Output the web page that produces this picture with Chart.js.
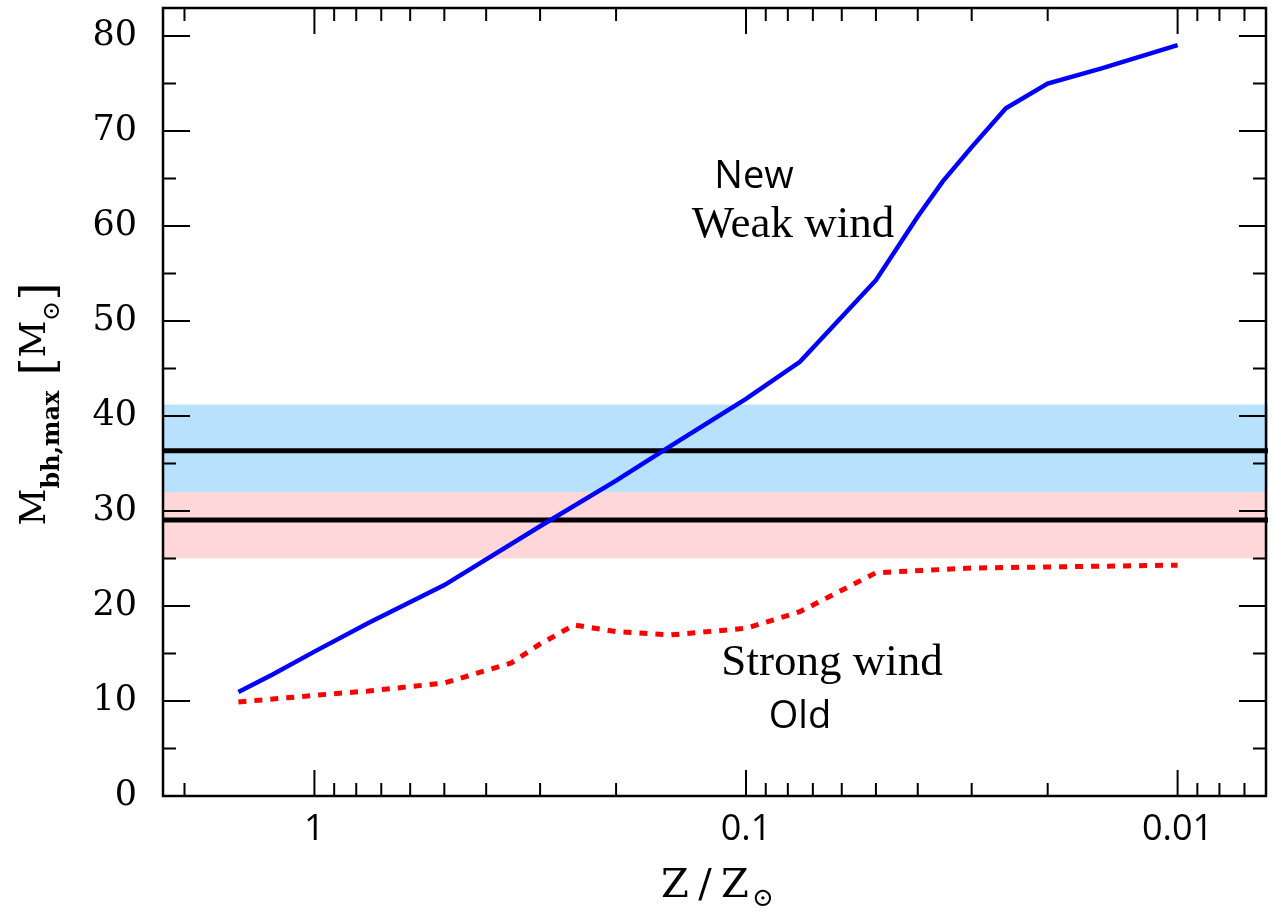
<!DOCTYPE html>
<html><head><meta charset="utf-8">
<script src="https://cdn.jsdelivr.net/npm/chart.js@4/dist/chart.umd.min.js"></script>
<style>html,body{margin:0;padding:0;background:#fff}#wrap{width:1281px;height:916px;position:relative}</style>
</head><body><div id="wrap"><canvas id="c"></canvas></div>
<script>
// ---- data ----
const zNew = [1.5, 1.25, 1, 0.75, 0.5, 0.3, 0.2, 0.15, 0.1, 0.075, 0.05, 0.04, 0.035, 0.03, 0.025, 0.02, 0.015, 0.01];
const mNew = [10.95, 12.8, 15.2, 18.2, 22.2, 28.4, 33.2, 36.8, 41.8, 45.7, 54.3, 61.0, 64.7, 68.3, 72.4, 75.0, 76.6, 79.05];
const zOld = [1.5, 1.25, 1, 0.75, 0.5, 0.35, 0.3, 0.25, 0.2, 0.15, 0.1, 0.075, 0.05, 0.03, 0.01];
const mOld = [9.9, 10.2, 10.6, 11.05, 11.9, 14.0, 16.0, 18.0, 17.3, 16.95, 17.65, 19.4, 23.5, 24.0, 24.3];
const bandLow = [25, 32];     // pink band
const bandHigh = [32, 41.2];  // blue band
const refLines = [36.35, 29.05];
const xMajor = [1, 0.1, 0.01];
const xTickLabels = ['1', '0.1', '0.01'];
const xMinor = [2, 0.9, 0.8, 0.7, 0.6, 0.5, 0.4, 0.3, 0.2, 0.09, 0.08, 0.07, 0.06, 0.05, 0.04, 0.03, 0.02, 0.009, 0.008, 0.007];
const yMajor = [0, 10, 20, 30, 40, 50, 60, 70, 80];
const yMinor = [5, 15, 25, 35, 45, 55, 65, 75];
const xRange = [0.00624, 2.243];
const yRange = [0, 82.95];

const SERIF = '"DejaVu Serif", serif';
const SANS = '"Open Sans", sans-serif';

const decor = {
  id: 'decor',
  beforeDatasetsDraw(chart) {
    const {ctx, chartArea: a, scales: {x, y}} = chart;
    ctx.save();
    const band = (r, col) => {
      const y1 = y.getPixelForValue(r[1]), y0 = y.getPixelForValue(r[0]);
      ctx.fillStyle = col;
      ctx.fillRect(a.left + 1, y1, a.right - a.left + 1, y0 - y1);
    };
    band(bandHigh, '#b7e1fd');
    band(bandLow, '#ffd7d9');
    ctx.strokeStyle = '#000';
    ctx.lineWidth = 5;
    refLines.forEach(v => {
      const p = y.getPixelForValue(v);
      ctx.beginPath(); ctx.moveTo(a.left + 1, p); ctx.lineTo(a.right + 2, p); ctx.stroke();
    });
    ctx.restore();
  },
  afterDatasetsDraw(chart) {
    const {ctx, chartArea: a, scales: {x, y}} = chart;
    ctx.save();
    ctx.strokeStyle = '#000';
    ctx.lineWidth = 2;
    const xt = (v, len) => {
      const p = x.getPixelForValue(v);
      ctx.beginPath();
      ctx.moveTo(p, a.bottom); ctx.lineTo(p, a.bottom - len);
      ctx.moveTo(p, a.top); ctx.lineTo(p, a.top + len);
      ctx.stroke();
    };
    const yt = (v, len) => {
      const p = y.getPixelForValue(v);
      ctx.beginPath();
      ctx.moveTo(a.left, p); ctx.lineTo(a.left + len, p);
      ctx.moveTo(a.right, p); ctx.lineTo(a.right - len, p);
      ctx.stroke();
    };
    xMajor.forEach(v => xt(v, 26));
    xMinor.forEach(v => xt(v, 13));
    yMajor.forEach(v => yt(v, 27));
    yMinor.forEach(v => yt(v, 13));
    ctx.lineWidth = 2.5;
    ctx.strokeRect(a.left, a.top, a.right - a.left, a.bottom - a.top);

    // annotations
    ctx.fillStyle = '#000';
    ctx.textAlign = 'center';
    ctx.textBaseline = 'alphabetic';
    ctx.font = '38px ' + SANS;
    ctx.fillText('New', 754, 188);
    ctx.fillText('Old', 800, 728);
    ctx.font = '45px "Liberation Serif", serif';
    ctx.fillText('Weak wind', 793, 237);
    ctx.fillText('Strong wind', 832, 675);

    // x title  Z/Z⊙
    ctx.font = '40px ' + SERIF;
    ctx.textAlign = 'center';
    ctx.fillText('Z', 675, 897);
    ctx.fillText('/', 705, 897);
    ctx.fillText('Z', 735, 897);
    ctx.font = '26px ' + SERIF;
    ctx.fillText('\u2299', 763, 906);

    // y title  M_bh,max [M⊙]
    ctx.textAlign = 'left';
    ctx.translate(45, 0);
    ctx.rotate(-Math.PI / 2);
    const parts = [
      {t: 'M', f: '36px ' + SERIF, dy: 0},
      {t: 'bh,max', f: 'bold 24px ' + SERIF, dy: 14},
      {t: '  ', f: '24px ' + SERIF, dy: 0},
      {t: '[', f: '46px ' + SERIF, dy: 9},
      {t: 'M', f: '36px ' + SERIF, dy: 0},
      {t: '\u2299', f: '24px ' + SERIF, dy: 14},
      {t: ']', f: '46px ' + SERIF, dy: 9}
    ];
    let total = 0;
    parts.forEach(p => { ctx.font = p.f; p.w = ctx.measureText(p.t).width; total += p.w; });
    let cx = -404 - total / 2;
    parts.forEach(p => { ctx.font = p.f; ctx.fillText(p.t, cx, p.dy); cx += p.w; });
    ctx.restore();
  }
};

new Chart(document.getElementById('c'), {
  type: 'line',
  data: {
    datasets: [
      {
        data: zNew.map((z, i) => ({x: z, y: mNew[i]})),
        borderColor: '#0000ff', borderWidth: 4.5, pointRadius: 0, tension: 0, fill: false
      },
      {
        data: zOld.map((z, i) => ({x: z, y: mOld[i]})),
        borderColor: '#ff0000', borderWidth: 5, borderDash: [8, 8], pointRadius: 0, tension: 0, fill: false
      }
    ]
  },
  options: {
    responsive: true,
    maintainAspectRatio: false,
    animation: false,
    events: [],
    layout: {padding: {left: 0, top: 8, right: 15, bottom: 0}},
    plugins: {legend: {display: false}, tooltip: {enabled: false}},
    scales: {
      x: {
        type: 'logarithmic',
        reverse: true,
        min: xRange[0], max: xRange[1],
        border: {display: false},
        grid: {display: false, drawTicks: false},
        afterBuildTicks: s => { s.ticks = xMajor.map(v => ({value: v})); },
        afterFit: s => { s.height = 120; s.paddingLeft = 0; s.paddingRight = 0; },
        ticks: {
          autoSkip: false, maxRotation: 0, padding: 12, color: '#000',
          font: {family: SANS, size: 36},
          callback: (v, i) => xTickLabels[i]
        }
      },
      y: {
        type: 'linear',
        min: yRange[0], max: yRange[1],
        border: {display: false},
        grid: {display: false, drawTicks: false},
        afterBuildTicks: s => { s.ticks = yMajor.map(v => ({value: v})); },
        afterFit: s => { s.width = 163; s.paddingTop = 0; s.paddingBottom = 0; },
        ticks: {
          padding: 26, color: '#000',
          font: {family: SERIF, size: 35},
          callback: v => String(v)
        }
      }
    }
  },
  plugins: [decor]
});
</script>
</body></html>
